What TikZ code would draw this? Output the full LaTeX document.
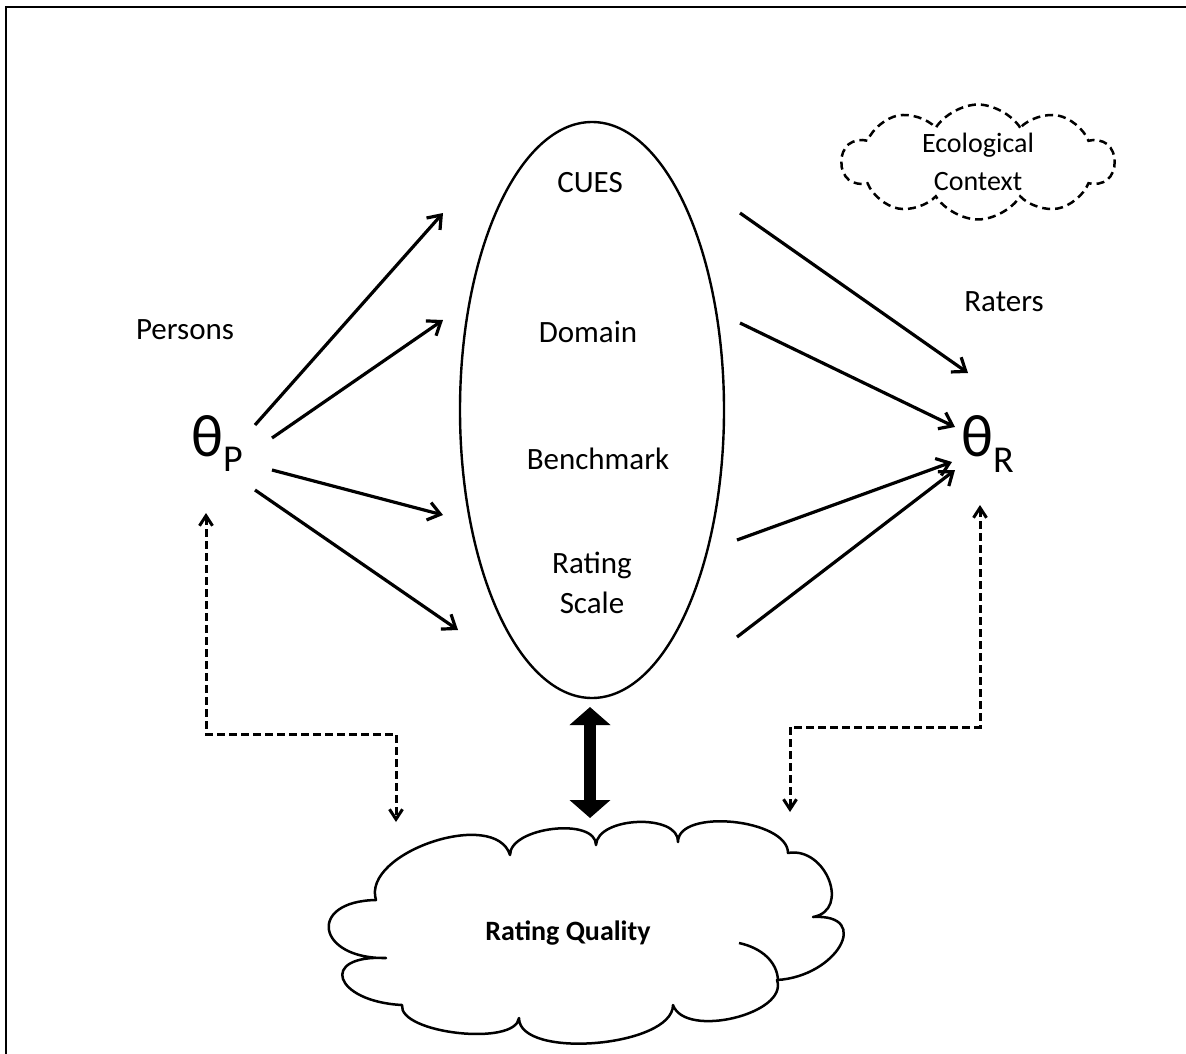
\documentclass[tikz,border=0pt]{standalone}
\usepackage{fontspec}
\setmainfont{Carlito}
\usetikzlibrary{arrows.meta,calc,shapes.geometric,shapes.symbols}
\begin{document}
\begin{tikzpicture}[x=1pt,y=-1pt,
  lbl/.style={font=\fontsize{31}{37}\selectfont, inner sep=0pt},
  arr/.style={line width=3.2pt, -{Straight Barb[length=12pt 0 0,width=18pt 0 0]}},
  dsh/.style={line width=3pt, dash pattern=on 8pt off 4pt, {Straight Barb[length=10pt 0 0,width=13pt 0 0]}-{Straight Barb[length=10pt 0 0,width=13pt 0 0]}},
  big/.style={line width=12pt, {Triangle[length=18pt 0 0,width=40pt 0 0]}-{Triangle[length=18pt 0 0,width=40pt 0 0]}},
  cloudline/.style={line width=2.5pt, line join=round}
]
\useasboundingbox (0,0) rectangle (1186,1054);
% frame (top and left edges)
\draw[line width=2.6pt] (6,1054) -- (6,7) -- (1186,7);

% central ellipse
\node[draw, ellipse, line width=2.4pt, minimum width=264pt, minimum height=576pt, inner sep=0pt] (ell) at (592,410) {};
\node[lbl] (cues) at (590,183) {CUES};
\node[lbl] (dom) at (588,332) {Domain};
\node[lbl] (bench) at (598,459) {Benchmark};
\node[lbl, align=center, font=\fontsize{31}{40}\selectfont] (rs) at (592,583) {Rating\\Scale};

% side labels
\node[lbl] (pers) at (185,330) {Persons};
\node[lbl] (rat) at (1004,302) {Raters};
\node[anchor=base west, inner sep=0pt, font=\fontsize{60}{60}\selectfont] (thP) at (191,456) {θ\raisebox{-15pt}{\fontsize{38}{38}\selectfont P}};
\node[anchor=base west, inner sep=0pt, font=\fontsize{60}{60}\selectfont] (thR) at (961,456) {θ\raisebox{-16pt}{\fontsize{38}{38}\selectfont R}};

% arrow end points
\coordinate (pA) at (255,425); \coordinate (eA) at (443,213);
\coordinate (pB) at (272,438); \coordinate (eB) at (443,320);
\coordinate (pC) at (272,470); \coordinate (eC) at (443,515);
\coordinate (pD) at (255,490); \coordinate (eD) at (458,630);
\coordinate (fA) at (740,213); \coordinate (rA) at (968,373);
\coordinate (fB) at (740,323); \coordinate (rB) at (955,427);
\coordinate (fC) at (737,540); \coordinate (rC) at (952,462);
\coordinate (fD) at (737,637); \coordinate (rD) at (955,470);
\draw[arr] (pA) -- (eA);
\draw[arr] (pB) -- (eB);
\draw[arr] (pC) -- (eC);
\draw[arr] (pD) -- (eD);
\draw[arr] (fA) -- (rA);
\draw[arr] (fB) -- (rB);
\draw[arr] (fC) -- (rC);
\draw[arr] (fD) -- (rD);

% Rating Quality cloud (puffs: notch, apex, next notch)
\draw[cloudline]
  (386,958)
  .. controls ($0.3333*(386,958)+1.3333*(329,930)-0.6667*(376,900)$) and ($0.3333*(376,900)+1.3333*(329,930)-0.6667*(386,958)$) .. (376,900)
  .. controls ($0.3333*(376,900)+1.3333*(432,842)-0.6667*(510,855)$) and ($0.3333*(510,855)+1.3333*(432,842)-0.6667*(376,900)$) .. (510,855)
  .. controls ($0.3333*(510,855)+1.3333*(553,829)-0.6667*(596,845)$) and ($0.3333*(596,845)+1.3333*(553,829)-0.6667*(510,855)$) .. (596,845)
  .. controls ($0.3333*(596,845)+1.3333*(638,822)-0.6667*(678,842)$) and ($0.3333*(678,842)+1.3333*(638,822)-0.6667*(596,845)$) .. (678,842)
  .. controls ($0.3333*(678,842)+1.3333*(733,822)-0.6667*(788,853)$) and ($0.3333*(788,853)+1.3333*(733,822)-0.6667*(678,842)$) .. (788,853)
  .. controls ($0.3333*(788,853)+1.3333*(829,880)-0.6667*(813,917)$) and ($0.3333*(813,917)+1.3333*(829,880)-0.6667*(788,853)$) .. (813,917)
  .. controls ($0.3333*(813,917)+1.3333*(840,946)-0.6667*(777,980)$) and ($0.3333*(777,980)+1.3333*(840,946)-0.6667*(813,917)$) .. (777,980)
  .. controls ($0.3333*(777,980)+1.3333*(734,1018)-0.6667*(673,1005)$) and ($0.3333*(673,1005)+1.3333*(734,1018)-0.6667*(777,980)$) .. (673,1005)
  .. controls ($0.3333*(673,1005)+1.3333*(596,1043)-0.6667*(519,1018)$) and ($0.3333*(519,1018)+1.3333*(596,1043)-0.6667*(673,1005)$) .. (519,1018)
  .. controls ($0.3333*(519,1018)+1.3333*(458,1033)-0.6667*(402,1005)$) and ($0.3333*(402,1005)+1.3333*(458,1033)-0.6667*(519,1018)$) .. (402,1005)
  .. controls ($0.3333*(402,1005)+1.3333*(343,979)-0.6667*(386,958)$) and ($0.3333*(386,958)+1.3333*(343,979)-0.6667*(402,1005)$) .. (386,958)
  -- cycle;
% inner puff line of the cloud
\draw[cloudline] (739,943) .. controls (762,948) and (777,962) .. (778,980);
\node[inner sep=0pt, font=\bfseries\fontsize{28}{34}\selectfont] (rq) at (568,933) {Rating Quality};

% Ecological context cloud
\node[draw, cloud, cloud puffs=10, cloud puff arc=115, cloud ignores aspect, line width=2.5pt,
      dash pattern=on 8pt off 5pt, minimum width=272pt, minimum height=98pt, align=center,
      font=\fontsize{28}{38}\selectfont] (eco) at (978,162) {Ecological\\Context};

% thick double arrow
\coordinate (bt) at (590,707);
\coordinate (bb) at (590,818);
\draw[big] (bt) -- (bb);

% dashed connectors
\coordinate (lu) at (206,513); \coordinate (lc) at (206,734); \coordinate (ld) at (396,822);
\draw[dsh] (lu) -- (lc) -| (ld);
\coordinate (ru) at (980,505); \coordinate (rc) at (980,727); \coordinate (rd) at (790,812);
\draw[dsh] (ru) -- (rc) -| (rd);
\end{tikzpicture}
\end{document}
